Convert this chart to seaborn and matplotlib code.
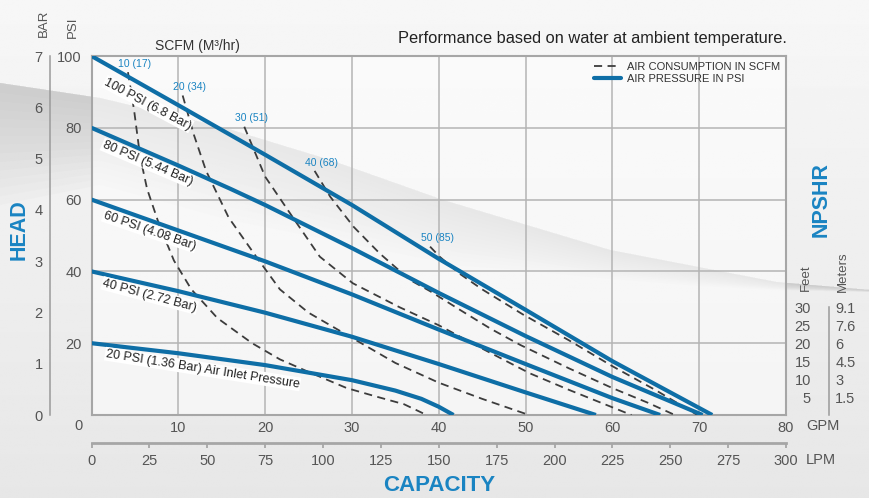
import numpy as np
import pandas as pd
import matplotlib
matplotlib.use("Agg")
import matplotlib.pyplot as plt
import seaborn as sns
from matplotlib.lines import Line2D

# ---------------- data ----------------
gpm_ticks = [0, 10, 20, 30, 40, 50, 60, 70, 80]
lpm_ticks = [0, 25, 50, 75, 100, 125, 150, 175, 200, 225, 250, 275, 300]
psi_ticks = [20, 40, 60, 80, 100]
bar_ticks = [0, 1, 2, 3, 4, 5, 6, 7]
npshr_feet = [30, 25, 20, 15, 10, 5]
npshr_meters = ["9.1", "7.6", "6", "4.5", "3", "1.5"]

pressure_names = ["100 PSI (6.8 Bar)", "80 PSI (5.44 Bar)", "60 PSI (4.08 Bar)",
                  "40 PSI (2.72 Bar)", "20 PSI (1.36 Bar) Air Inlet Pressure"]
p100_gpm = [0, 10, 20, 30, 40, 50, 60, 71.5]
p100_psi = [100, 86.3, 72.5, 58.5, 43.5, 29.3, 15, 0]
p80_gpm = [0, 10, 16, 20, 30, 40, 50, 60, 70.4]
p80_psi = [80, 69.5, 63, 58.5, 46.5, 34, 22, 10.6, 0]
p60_gpm = [0, 10, 20, 30, 40, 50, 60, 65.5]
p60_psi = [60, 51.4, 42.8, 33.6, 23.8, 14.2, 4.7, 0]
p40_gpm = [0, 10, 20, 30, 40, 50, 58.1]
p40_psi = [40, 34.5, 28.5, 21.8, 14.2, 6.3, 0]
p20_gpm = [0, 10, 20, 30, 35, 38, 40, 41.7]
p20_psi = [20, 17.2, 13.9, 9.7, 6.8, 4.5, 2.3, 0]

air_names = ["10 (17)", "20 (34)", "30 (51)", "40 (68)", "50 (85)"]
a10_gpm = [4.2, 4.9, 5.6, 6.4, 7.8, 9.5, 11.5, 14.5, 18.5, 21.7, 25, 29.4, 33, 36, 38.6]
a10_psi = [95.5, 85, 72, 63, 53, 43, 35, 27, 20, 15.5, 12, 7.5, 5, 3, 0]
a20_gpm = [10.5, 11.8, 13.2, 15.8, 19, 21.7, 25, 30, 35, 40, 45, 50.4]
a20_psi = [89, 78, 68, 55, 44, 35, 28.5, 21.5, 14.5, 9, 4.5, 0]
a30_gpm = [17.6, 20, 23.4, 26.3, 30.1, 35.5, 40, 45, 50.5, 55, 62.2]
a30_psi = [80.3, 66.4, 54.3, 44.1, 36.7, 30, 25, 18.5, 11.6, 7, 0]
a40_gpm = [25.7, 27.5, 30.2, 33.2, 36.7, 39, 42.5, 46, 49.4, 55, 60, 64, 67.2]
a40_psi = [68, 60.8, 52.4, 45, 37.6, 34.5, 29.2, 24, 19.5, 13, 7.5, 3.5, 0]
a50_gpm = [39, 40.1, 42.5, 45, 49.7, 55, 60, 65, 69.8]
a50_psi = [46.9, 44.1, 39.2, 35, 28, 20.8, 13.6, 6.9, 0]

p_gpm = [p100_gpm, p80_gpm, p60_gpm, p40_gpm, p20_gpm]
p_psi = [p100_psi, p80_psi, p60_psi, p40_psi, p20_psi]
a_gpm = [a10_gpm, a20_gpm, a30_gpm, a40_gpm, a50_gpm]
a_psi = [a10_psi, a20_psi, a30_psi, a40_psi, a50_psi]

df_p = pd.concat([pd.DataFrame({"series": n, "gpm": g, "psi": p})
                  for n, g, p in zip(pressure_names, p_gpm, p_psi)], ignore_index=True)
df_a = pd.concat([pd.DataFrame({"series": n, "gpm": g, "psi": p})
                  for n, g, p in zip(air_names, a_gpm, a_psi)], ignore_index=True)

# ---------------- style ----------------
sns.set_theme(style="white")
plt.rcParams["font.family"] = ["Liberation Sans", "DejaVu Sans"]

BLUE = "#0e6ea6"
LBLUE = "#1a84c2"
GRAY_T = "#555555"
DASH = "#3c3c3c"
W, H = 869, 498

fig = plt.figure(figsize=(W / 100, H / 100), dpi=100)
fig.patch.set_facecolor("#eeeeee")

# background gradient + swoosh (decor)
bg = fig.add_axes([0, 0, 1, 1], zorder=-10)
grad = np.linspace(0.968, 0.905, 200)[:, None] * np.ones((1, 10))
bg.imshow(grad, extent=[0, W, H, 0], aspect="auto", cmap="gray", vmin=0, vmax=1)
upper = np.array([(0, 83), (100, 98), (222, 127), (330, 160), (443, 200), (610, 250),
                  (776, 282), (869, 290)], float)
lower = np.array([(0, 205), (100, 185), (230, 220), (330, 240), (460, 266), (520, 270),
                  (600, 278), (700, 286), (776, 290), (869, 292)], float)
xs = np.linspace(0, W, 300)
uy = np.interp(xs, upper[:, 0], upper[:, 1])
ly = np.interp(xs, lower[:, 0], lower[:, 1])
for frac in np.linspace(0.08, 1.0, 14):
    bg.fill_between(xs, uy, uy + (ly - uy) * frac, color="#b8b8b8", alpha=0.055, lw=0)
bg.set_xlim(0, W)
bg.set_ylim(H, 0)
bg.axis("off")

pos = [91.5 / W, 1 - 415 / H, (786 - 91.5) / W, (415 - 56) / H]
ax = fig.add_axes(pos)
ax.set_facecolor((1, 1, 1, 0.55))

sns.lineplot(data=df_a, x="gpm", y="psi", units="series", estimator=None, sort=False,
             color=DASH, lw=1.3, linestyle=(0, (4.5, 3)), ax=ax, legend=False, zorder=3)
sns.lineplot(data=df_p, x="gpm", y="psi", units="series", estimator=None, sort=False,
             color=BLUE, lw=3.0, ax=ax, legend=False, zorder=4, solid_capstyle="butt")

ax.set_xlim(gpm_ticks[0], gpm_ticks[-1])
ax.set_ylim(0, psi_ticks[-1])
ax.set_xticks(gpm_ticks[1:])
ax.set_yticks(psi_ticks)
ax.set_xlabel("")
ax.set_ylabel("")
ax.grid(True, color="#b4b4b4", lw=1.1)
ax.set_axisbelow(True)
for s in ax.spines.values():
    s.set_color("#a6a6a6")
    s.set_linewidth(1.5)
ax.tick_params(axis="both", length=0, labelsize=10.5, labelcolor=GRAY_T)
ax.tick_params(axis="x", pad=4)
ax.tick_params(axis="y", pad=7)
ax.annotate(str(gpm_ticks[0]), xy=(0, 0), xycoords="axes fraction", xytext=(-9.7, -8),
            textcoords="offset points", ha="center", va="center", fontsize=10.5, color=GRAY_T)
ax.annotate("GPM", xy=(1, 0), xycoords="axes fraction", xytext=(14.4, -8),
            textcoords="offset points", ha="left", va="center", fontsize=10.5, color=GRAY_T)

# pressure curve labels
p_label_pos = [(6.5, 86.6, -28), (6.45, 70.2, -23), (6.7, 51.3, -19), (6.7, 33.3, -15),
               (12.8, 12.8, -9)]
for name, (lx, ly_, rot) in zip(pressure_names, p_label_pos):
    ax.text(lx, ly_, name, rotation=rot, rotation_mode="anchor", ha="center", va="center",
            fontsize=9, color="#222222", zorder=6,
            bbox=dict(fc="white", ec="none", pad=0.6))

# air consumption labels
for name, g, p in zip(air_names, a_gpm, a_psi):
    ax.annotate(name, xy=(g[0], p[0]), xytext=(5, 6), textcoords="offset points",
                ha="center", va="center", fontsize=7.5, color=LBLUE, zorder=6)

# legend
handles = [Line2D([], [], color=DASH, lw=1.3, ls=(0, (4.5, 3))),
           Line2D([], [], color=BLUE, lw=3)]
ax.legend(handles, ["AIR CONSUMPTION IN SCFM", "AIR PRESSURE IN PSI"], loc="upper right",
          frameon=False, fontsize=8, handlelength=2.4, handletextpad=0.6,
          labelspacing=0.25, borderpad=0.15, borderaxespad=0.35, labelcolor="#333333")

# LPM secondary axis
ratio = lpm_ticks[-1] / gpm_ticks[-1]
sec = ax.secondary_xaxis(-0.078, functions=(lambda g: g * ratio, lambda l: l / ratio))
sec.set_xticks(lpm_ticks)
sec.tick_params(direction="out", length=3.6, width=1.3, color="#a6a6a6",
                labelsize=10.5, labelcolor=GRAY_T, pad=4)
sec.spines["bottom"].set_color("#a6a6a6")
sec.spines["bottom"].set_linewidth(2)
ax.annotate("LPM", xy=(1, -0.078), xycoords="axes fraction", xytext=(14.4, -12),
            textcoords="offset points", ha="left", va="center", fontsize=10.5, color=GRAY_T)

# BAR axis
axb = fig.add_axes(pos, zorder=-1)
axb.patch.set_visible(False)
for k in ("top", "right", "bottom"):
    axb.spines[k].set_visible(False)
axb.spines["left"].set_position(("outward", 30.2))
axb.spines["left"].set_color("#9a9a9a")
axb.spines["left"].set_linewidth(1.1)
axb.set_ylim(bar_ticks[0], bar_ticks[-1])
axb.set_xticks([])
axb.set_yticks(bar_ticks)
axb.set_yticks([bar_ticks[0], bar_ticks[-1]], minor=True)
axb.tick_params(axis="y", which="major", length=0, labelsize=10.5, labelcolor=GRAY_T, pad=5)
axb.tick_params(axis="y", which="minor", direction="in", length=3, width=1.1, color="#9a9a9a")

# NPSHR axes (feet left of bracket, meters right)
off = 1 + 43 / (786 - 91.5)
axf = fig.add_axes(pos, zorder=-1)
axf.patch.set_visible(False)
for k in ("top", "right", "bottom"):
    axf.spines[k].set_visible(False)
axf.spines["left"].set_position(("axes", off))
axf.spines["left"].set_bounds(0, npshr_feet[0])
axf.spines["left"].set_color("#9a9a9a")
axf.spines["left"].set_linewidth(1.1)
axf.set_ylim(0, psi_ticks[-1])
axf.set_xticks([])
axf.set_yticks(npshr_feet)
axf.set_yticks([0, 10, 20, 30], minor=True)
axf.tick_params(axis="y", which="major", length=0, labelsize=10.5, labelcolor=GRAY_T, pad=13)
axf.tick_params(axis="y", which="minor", direction="out", length=3, width=1.1, color="#9a9a9a")

axm = fig.add_axes(pos, zorder=-1)
axm.patch.set_visible(False)
for k in ("top", "left", "bottom"):
    axm.spines[k].set_visible(False)
axm.spines["right"].set_position(("axes", off))
axm.spines["right"].set_visible(False)
axm.set_ylim(0, psi_ticks[-1])
axm.set_xticks([])
axm.yaxis.tick_right()
axm.set_yticks(npshr_feet)
axm.set_yticklabels(npshr_meters)
axm.tick_params(axis="y", length=0, labelsize=10.5, labelcolor=GRAY_T, pad=4.5)

# texts
def ft(px, py, s, **kw):
    fig.text(px / W, 1 - py / H, s, **kw)

ft(787, 38, "Performance based on water at ambient temperature.", ha="right", va="center",
   fontsize=11.8, color="#222222")
ft(197, 46, "SCFM (M\u00b3/hr)", ha="center", va="center", fontsize=10, color="#333333")
ft(44, 23, "BAR", rotation=90, ha="center", va="center", fontsize=9.5, color=GRAY_T)
ft(73, 27, "PSI", rotation=90, ha="center", va="center", fontsize=9.5, color=GRAY_T)
ft(806, 278, "Feet", rotation=90, ha="center", va="center", fontsize=9.5, color=GRAY_T)
ft(843, 272, "Meters", rotation=90, ha="center", va="center", fontsize=9.5, color=GRAY_T)
ft(19, 230, "HEAD", rotation=90, ha="center", va="center", fontsize=15.5,
   fontweight="bold", color=LBLUE)
ft(821, 200, "NPSHR", rotation=90, ha="center", va="center", fontsize=15.5,
   fontweight="bold", color=LBLUE)
ft(439, 485, "CAPACITY", ha="center", va="center", fontsize=16,
   fontweight="bold", color=LBLUE)

fig.savefig("out.png", dpi=100)
